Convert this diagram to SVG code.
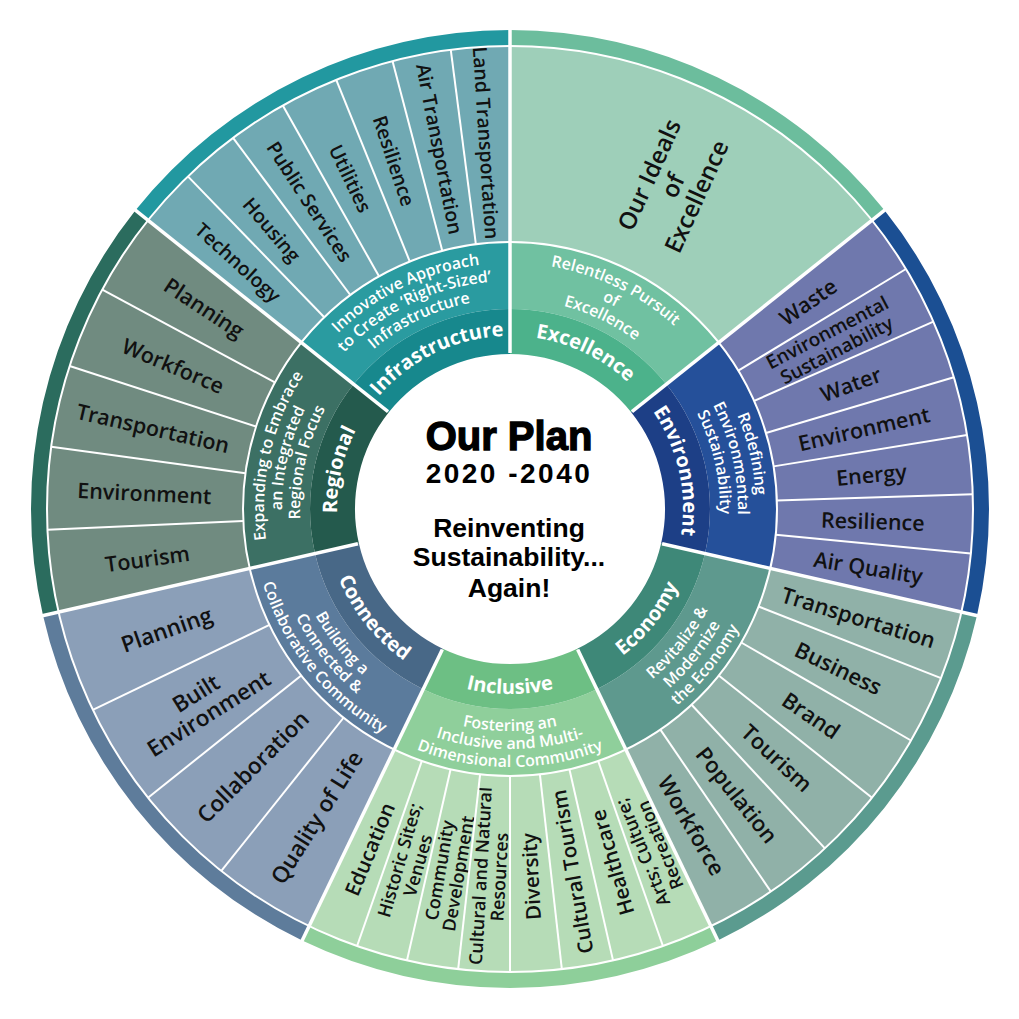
<svg xmlns="http://www.w3.org/2000/svg" width="1019" height="1019" viewBox="0 0 1019 1019">
<style>
.it{font-family:"Open Sans","Liberation Sans",sans-serif;font-weight:600;fill:#111;text-anchor:middle;dominant-baseline:central;font-size:21.5px}
.it tspan{dominant-baseline:central}
.lb{font-family:"Open Sans","Liberation Sans",sans-serif;font-weight:700;font-size:20px;fill:#fff;text-anchor:middle}
.sb{font-family:"Open Sans","Liberation Sans",sans-serif;font-weight:600;font-size:16px;fill:#fff;text-anchor:middle}
.ct{font-family:"Liberation Sans",Arial,sans-serif;font-weight:700;fill:#000;text-anchor:middle}
.sd{stroke:#fff;stroke-width:3.5}
.id{stroke:#fff;stroke-width:2}
.rc{fill:none;stroke:#fff;stroke-width:2}
</style>
<defs>
<path id="wL" d="M510,309 A200,200 0 0 1 666.37,384.30 L631.18,412.36 A155,155 0 0 0 510,354 Z"/>
<path id="wS" d="M510,242 A267,267 0 0 1 718.75,342.53 L666.37,384.30 A200,200 0 0 0 510,309 Z"/>
<path id="wI" d="M510,46 A463,463 0 0 1 871.99,220.32 L718.75,342.53 A267,267 0 0 0 510,242 Z"/>
<path id="wB" d="M510,30 A479,479 0 0 1 884.50,210.35 L871.99,220.32 A463,463 0 0 0 510,46 Z"/>
<path id="aT173" d="M398.80,376.47 A173,173 0 0 1 621.20,376.47"/>
<path id="aT246" d="M351.87,320.55 A246,246 0 0 1 668.13,320.55"/>
<path id="aT228" d="M363.44,334.34 A228,228 0 0 1 656.56,334.34"/>
<path id="aT210" d="M375.01,348.13 A210,210 0 0 1 644.99,348.13"/>
<path id="aB185" d="M391.08,650.72 A185,185 0 0 0 628.92,650.72"/>
<path id="aB222" d="M367.30,679.06 A222,222 0 0 0 652.70,679.06"/>
<path id="aB240" d="M355.73,692.85 A240,240 0 0 0 664.27,692.85"/>
<path id="aB258" d="M344.16,706.64 A258,258 0 0 0 675.84,706.64"/>
</defs>
<rect width="1019" height="1019" fill="#fff"/>

<g id="excellence">
<use href="#wB" fill="#6cbd9d"/>
<use href="#wI" fill="#9ecfb9"/>
<use href="#wS" fill="#70c1a1"/>
<use href="#wL" fill="#4cb28b"/>
<g transform="rotate(25.714 510 509)">
<text class="lb"><textPath href="#aT173" startOffset="50%">Excellence</textPath></text>
<text class="sb"><textPath href="#aT246" startOffset="50%">Relentless Pursuit</textPath></text>
<text class="sb"><textPath href="#aT228" startOffset="50%">of</textPath></text>
<text class="sb"><textPath href="#aT210" startOffset="50%">Excellence</textPath></text>
</g>
<text class="it" style="font-size:24px" transform="rotate(26.5 510 509) translate(510 147) rotate(-92)"><tspan x="0" y="-26">Our Ideals</tspan><tspan x="0" y="0">of</tspan><tspan x="0" y="26">Excellence</tspan></text>
</g>

<g id="environment">
<use href="#wB" fill="#1b4f93" transform="rotate(51.4286 510 509)"/>
<use href="#wI" fill="#6f78ad" transform="rotate(51.4286 510 509)"/>
<use href="#wS" fill="#25509a" transform="rotate(51.4286 510 509)"/>
<use href="#wL" fill="#1d3f86" transform="rotate(51.4286 510 509)"/>
<g transform="rotate(77.143 510 509)">
<text class="lb"><textPath href="#aT173" startOffset="50%">Environment</textPath></text>
<text class="sb"><textPath href="#aT246" startOffset="50%">Redefining</textPath></text>
<text class="sb"><textPath href="#aT228" startOffset="50%">Environmental</textPath></text>
<text class="sb"><textPath href="#aT210" startOffset="50%">Sustainability</textPath></text>
</g>
<text class="it" transform="rotate(55.102 510 509) translate(510 146) rotate(-90)">Waste</text>
<text class="it" style="font-size:19px" transform="rotate(62.449 510 509) translate(510 146) rotate(-90)"><tspan x="0" y="-10">Environmental</tspan><tspan x="0" y="10">Sustainability</tspan></text>
<text class="it" transform="rotate(69.796 510 509) translate(510 146) rotate(-90)">Water</text>
<text class="it" transform="rotate(77.143 510 509) translate(510 146) rotate(-90)">Environment</text>
<text class="it" transform="rotate(84.490 510 509) translate(510 146) rotate(-90)">Energy</text>
<text class="it" transform="rotate(91.837 510 509) translate(510 146) rotate(-90)">Resilience</text>
<text class="it" transform="rotate(99.184 510 509) translate(510 146) rotate(-90)">Air Quality</text>
</g>

<g id="economy">
<use href="#wB" fill="#5b9b8f" transform="rotate(102.857 510 509)"/>
<use href="#wI" fill="#90b1a8" transform="rotate(102.857 510 509)"/>
<use href="#wS" fill="#5e998e" transform="rotate(102.857 510 509)"/>
<use href="#wL" fill="#3e8878" transform="rotate(102.857 510 509)"/>
<g transform="rotate(-51.429 510 509)">
<text class="lb"><textPath href="#aB185" startOffset="50%">Economy</textPath></text>
<text class="sb"><textPath href="#aB222" startOffset="50%">Revitalize &amp;</textPath></text>
<text class="sb"><textPath href="#aB240" startOffset="50%">Modernize</textPath></text>
<text class="sb"><textPath href="#aB258" startOffset="50%">the Economy</textPath></text>
</g>
<text class="it" style="font-size:22px" transform="rotate(107.143 510 509) translate(510 144) rotate(-90)">Transportation</text>
<text class="it" style="font-size:22px" transform="rotate(115.714 510 509) translate(510 144) rotate(-90)">Business</text>
<text class="it" style="font-size:22px" transform="rotate(124.286 510 509) translate(510 144) rotate(-90)">Brand</text>
<text class="it" style="font-size:22px" transform="rotate(132.857 510 509) translate(510 144) rotate(-90)">Tourism</text>
<text class="it" style="font-size:22px" transform="rotate(141.429 510 509) translate(510 144) rotate(-90)">Population</text>
<text class="it" style="font-size:22px" transform="rotate(150 510 509) translate(510 144) rotate(-90)">Workforce</text>
</g>

<g id="inclusive">
<use href="#wB" fill="#8ecf9a" transform="rotate(154.286 510 509)"/>
<use href="#wI" fill="#b6dcb7" transform="rotate(154.286 510 509)"/>
<use href="#wS" fill="#8fcf9b" transform="rotate(154.286 510 509)"/>
<use href="#wL" fill="#6dbf84" transform="rotate(154.286 510 509)"/>
<text class="lb"><textPath href="#aB185" startOffset="50%">Inclusive</textPath></text>
<text class="sb"><textPath href="#aB222" startOffset="50%">Fostering an</textPath></text>
<text class="sb"><textPath href="#aB240" startOffset="50%">Inclusive and Multi-</textPath></text>
<text class="sb"><textPath href="#aB258" startOffset="50%">Dimensional Community</textPath></text>
<text class="it" style="font-size:18px" transform="rotate(157.5 510 509) translate(510 141) rotate(90)"><tspan x="0" y="-9.5">Arts; Culture;</tspan><tspan x="0" y="9.5">Recreation</tspan></text>
<text class="it" style="font-size:20.5px" transform="rotate(163.929 510 509) translate(510 141) rotate(90)">Healthcare</text>
<text class="it" style="font-size:20.5px" transform="rotate(170.357 510 509) translate(510 141) rotate(90)">Cultural Tourism</text>
<text class="it" style="font-size:20.5px" transform="rotate(176.786 510 509) translate(510 141) rotate(90)">Diversity</text>
<text class="it" style="font-size:18px" transform="rotate(183.214 510 509) translate(510 141) rotate(90)"><tspan x="0" y="-9.5">Cultural and Natural</tspan><tspan x="0" y="9.5">Resources</tspan></text>
<text class="it" style="font-size:18px" transform="rotate(189.643 510 509) translate(510 141) rotate(90)"><tspan x="0" y="-9.5">Community</tspan><tspan x="0" y="9.5">Development</tspan></text>
<text class="it" style="font-size:18px" transform="rotate(196.071 510 509) translate(510 141) rotate(90)"><tspan x="0" y="-9.5">Historic Sites;</tspan><tspan x="0" y="9.5">Venues</tspan></text>
<text class="it" style="font-size:20.5px" transform="rotate(202.5 510 509) translate(510 141) rotate(90)">Education</text>
</g>

<g id="connected">
<use href="#wB" fill="#5e7c9b" transform="rotate(205.714 510 509)"/>
<use href="#wI" fill="#8b9fb8" transform="rotate(205.714 510 509)"/>
<use href="#wS" fill="#5b7b9c" transform="rotate(205.714 510 509)"/>
<use href="#wL" fill="#486887" transform="rotate(205.714 510 509)"/>
<g transform="rotate(51.429 510 509)">
<text class="lb"><textPath href="#aB185" startOffset="50%">Connected</textPath></text>
<text class="sb"><textPath href="#aB222" startOffset="50%">Building a</textPath></text>
<text class="sb"><textPath href="#aB240" startOffset="50%">Connected &amp;</textPath></text>
<text class="sb"><textPath href="#aB258" startOffset="50%">Collaborative Community</textPath></text>
</g>
<text class="it" style="font-size:22.5px" transform="rotate(212.143 510 509) translate(510 145) rotate(90)">Quality of Life</text>
<text class="it" style="font-size:22.5px" transform="rotate(225 510 509) translate(510 145) rotate(90)">Collaboration</text>
<text class="it" style="font-size:22.5px" transform="rotate(237.857 510 509) translate(510 145) rotate(90)"><tspan x="0" y="-12">Built</tspan><tspan x="0" y="12">Environment</tspan></text>
<text class="it" style="font-size:22.5px" transform="rotate(250.714 510 509) translate(510 145) rotate(90)">Planning</text>
</g>

<g id="regional">
<use href="#wB" fill="#2b6c5e" transform="rotate(257.143 510 509)"/>
<use href="#wI" fill="#708b80" transform="rotate(257.143 510 509)"/>
<use href="#wS" fill="#3c7064" transform="rotate(257.143 510 509)"/>
<use href="#wL" fill="#245a4d" transform="rotate(257.143 510 509)"/>
<g transform="rotate(282.857 510 509)">
<text class="lb"><textPath href="#aT173" startOffset="50%">Regional</textPath></text>
<text class="sb"><textPath href="#aT246" startOffset="50%">Expanding to Embrace</textPath></text>
<text class="sb"><textPath href="#aT228" startOffset="50%">an Integrated</textPath></text>
<text class="sb"><textPath href="#aT210" startOffset="50%">Regional Focus</textPath></text>
</g>
<text class="it" transform="rotate(262.286 510 509) translate(510 143) rotate(90)">Tourism</text>
<text class="it" transform="rotate(272.571 510 509) translate(510 143) rotate(90)">Environment</text>
<text class="it" transform="rotate(282.857 510 509) translate(510 143) rotate(90)">Transportation</text>
<text class="it" transform="rotate(293.143 510 509) translate(510 143) rotate(90)">Workforce</text>
<text class="it" transform="rotate(303.429 510 509) translate(510 143) rotate(90)">Planning</text>
</g>

<g id="infrastructure">
<use href="#wB" fill="#2298a0" transform="rotate(308.571 510 509)"/>
<use href="#wI" fill="#70a9b3" transform="rotate(308.571 510 509)"/>
<use href="#wS" fill="#2a9ba0" transform="rotate(308.571 510 509)"/>
<use href="#wL" fill="#17888d" transform="rotate(308.571 510 509)"/>
<g transform="rotate(334.286 510 509)">
<text class="lb"><textPath href="#aT173" startOffset="50%">Infrastructure</textPath></text>
<text class="sb"><textPath href="#aT246" startOffset="50%">Innovative Approach</textPath></text>
<text class="sb"><textPath href="#aT228" startOffset="50%">to Create ‘Right-Sized’</textPath></text>
<text class="sb"><textPath href="#aT210" startOffset="50%">Infrastructure</textPath></text>
</g>
<text class="it" style="font-size:19.5px" transform="rotate(312.245 510 509) translate(510 142) rotate(90)">Technology</text>
<text class="it" style="font-size:19.5px" transform="rotate(319.592 510 509) translate(510 142) rotate(90)">Housing</text>
<text class="it" style="font-size:19.5px" transform="rotate(326.939 510 509) translate(510 142) rotate(90)">Public Services</text>
<text class="it" style="font-size:19.5px" transform="rotate(334.286 510 509) translate(510 142) rotate(90)">Utilities</text>
<text class="it" style="font-size:19.5px" transform="rotate(341.633 510 509) translate(510 142) rotate(90)">Resilience</text>
<text class="it" style="font-size:19.5px" transform="rotate(348.980 510 509) translate(510 142) rotate(90)">Air Transportation</text>
<text class="it" style="font-size:19.5px" transform="rotate(356.327 510 509) translate(510 142) rotate(90)">Land Transportation</text>
</g>

<g id="dividers">
<circle class="rc" cx="510" cy="509" r="267"/>
<circle class="rc" cx="510" cy="509" r="463"/>
<g class="id">
<line x1="510" y1="242" x2="510" y2="46" transform="rotate(58.776 510 509)"/>
<line x1="510" y1="242" x2="510" y2="46" transform="rotate(66.122 510 509)"/>
<line x1="510" y1="242" x2="510" y2="46" transform="rotate(73.469 510 509)"/>
<line x1="510" y1="242" x2="510" y2="46" transform="rotate(80.816 510 509)"/>
<line x1="510" y1="242" x2="510" y2="46" transform="rotate(88.163 510 509)"/>
<line x1="510" y1="242" x2="510" y2="46" transform="rotate(95.510 510 509)"/>
<line x1="510" y1="242" x2="510" y2="46" transform="rotate(111.429 510 509)"/>
<line x1="510" y1="242" x2="510" y2="46" transform="rotate(120 510 509)"/>
<line x1="510" y1="242" x2="510" y2="46" transform="rotate(128.571 510 509)"/>
<line x1="510" y1="242" x2="510" y2="46" transform="rotate(137.143 510 509)"/>
<line x1="510" y1="242" x2="510" y2="46" transform="rotate(145.714 510 509)"/>
<line x1="510" y1="242" x2="510" y2="46" transform="rotate(160.714 510 509)"/>
<line x1="510" y1="242" x2="510" y2="46" transform="rotate(167.143 510 509)"/>
<line x1="510" y1="242" x2="510" y2="46" transform="rotate(173.571 510 509)"/>
<line x1="510" y1="242" x2="510" y2="46" transform="rotate(180 510 509)"/>
<line x1="510" y1="242" x2="510" y2="46" transform="rotate(186.429 510 509)"/>
<line x1="510" y1="242" x2="510" y2="46" transform="rotate(192.857 510 509)"/>
<line x1="510" y1="242" x2="510" y2="46" transform="rotate(199.286 510 509)"/>
<line x1="510" y1="242" x2="510" y2="46" transform="rotate(218.571 510 509)"/>
<line x1="510" y1="242" x2="510" y2="46" transform="rotate(231.429 510 509)"/>
<line x1="510" y1="242" x2="510" y2="46" transform="rotate(244.286 510 509)"/>
<line x1="510" y1="242" x2="510" y2="46" transform="rotate(267.429 510 509)"/>
<line x1="510" y1="242" x2="510" y2="46" transform="rotate(277.714 510 509)"/>
<line x1="510" y1="242" x2="510" y2="46" transform="rotate(288 510 509)"/>
<line x1="510" y1="242" x2="510" y2="46" transform="rotate(298.286 510 509)"/>
<line x1="510" y1="242" x2="510" y2="46" transform="rotate(315.918 510 509)"/>
<line x1="510" y1="242" x2="510" y2="46" transform="rotate(323.265 510 509)"/>
<line x1="510" y1="242" x2="510" y2="46" transform="rotate(330.612 510 509)"/>
<line x1="510" y1="242" x2="510" y2="46" transform="rotate(337.959 510 509)"/>
<line x1="510" y1="242" x2="510" y2="46" transform="rotate(345.306 510 509)"/>
<line x1="510" y1="242" x2="510" y2="46" transform="rotate(352.653 510 509)"/>
</g>
<g class="sd">
<line x1="510" y1="353" x2="510" y2="27"/>
<line x1="510" y1="353" x2="510" y2="27" transform="rotate(51.4286 510 509)"/>
<line x1="510" y1="353" x2="510" y2="27" transform="rotate(102.857 510 509)"/>
<line x1="510" y1="353" x2="510" y2="27" transform="rotate(154.286 510 509)"/>
<line x1="510" y1="353" x2="510" y2="27" transform="rotate(205.714 510 509)"/>
<line x1="510" y1="353" x2="510" y2="27" transform="rotate(257.143 510 509)"/>
<line x1="510" y1="353" x2="510" y2="27" transform="rotate(308.571 510 509)"/>
</g>
</g>

<g id="center">
<text class="ct" x="509" y="450" style="font-size:40px;stroke:#000;stroke-width:1.3">Our Plan</text>
<text class="ct" x="509" y="483" style="font-size:28px;letter-spacing:2.5px">2020 -2040</text>
<text class="ct" x="509" y="537" style="font-size:26.5px">Reinventing</text>
<text class="ct" x="509" y="566" style="font-size:26.5px">Sustainability...</text>
<text class="ct" x="509" y="597" style="font-size:26.5px">Again!</text>
</g>
</svg>
